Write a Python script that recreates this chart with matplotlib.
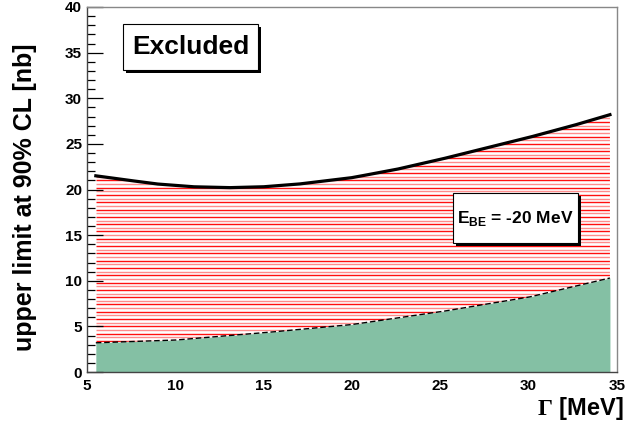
import matplotlib.pyplot as plt
import numpy as np
from matplotlib.patches import Rectangle

plt.rcParams['font.family'] = ['Liberation Sans', 'DejaVu Sans']
plt.rcParams['font.weight'] = 'bold'
plt.rcParams['mathtext.fontset'] = 'custom'
plt.rcParams['mathtext.rm'] = 'Liberation Serif'
plt.rcParams['mathtext.bf'] = 'Liberation Sans:bold'

# upper limit curve (black) and lower bound of the excluded band
gamma_up = [5.5, 7, 9, 11, 13, 15, 17, 20, 22.5, 25, 27.5, 30, 32.5, 34.6]
limit_up = [21.5, 21.1, 20.6, 20.3, 20.2, 20.3, 20.6, 21.3, 22.2, 23.3, 24.5, 25.7, 27.0, 28.2]
gamma_lo = [5.5, 10, 15, 20, 25, 30, 34.6]
limit_lo = [3.2, 3.5, 4.3, 5.2, 6.6, 8.2, 10.3]

x = np.linspace(5.5, 34.6, 200)
up = np.interp(x, gamma_up, limit_up)
lo = np.interp(x, gamma_lo, limit_lo)

fig = plt.figure(figsize=(6.26, 4.34), dpi=100)
ax = fig.add_axes([87/626, 1 - 372/434, 530/626, 365/434])

# green region below the lower curve
ax.fill_between(x, 0, lo, color='#84c0a4', lw=0, zorder=1)

# red horizontal hatching between the curves
band = ax.fill_between(x, lo, up, facecolor='none', lw=0, zorder=1)
ys = np.arange(0.2, 40, 0.4)
cols = ['#ff1010' if i % 2 == 0 else '#ff8c8c' for i in range(len(ys))]
hl = ax.hlines(ys, 5.5, 34.6, colors=cols, lw=1.0, zorder=1.5)
hl.set_clip_path(band.get_paths()[0], ax.transData)

ax.plot(x, up, color='black', lw=2.3, zorder=3)
ax.plot(x, lo, color='black', lw=1.0, ls=(0, (4, 2)), zorder=3)

ax.set_xlim(5, 35)
ax.set_ylim(0, 40)
ax.set_xticks([5, 10, 15, 20, 25, 30, 35])
ax.set_yticks(np.arange(0, 41, 5))
ax.set_yticks(np.arange(0, 41, 1), minor=True)
ax.tick_params(axis='y', which='major', direction='in', length=11.5, width=0.9, pad=3.5, labelsize=11)
ax.tick_params(axis='y', which='minor', direction='in', length=5.8, width=0.9)
ax.tick_params(axis='x', which='major', length=0, pad=5, labelsize=11)
for lab in ax.get_xticklabels() + ax.get_yticklabels():
    lab.set_fontweight('bold')
for s in ['top', 'right']:
    ax.spines[s].set_color('#888888')
for s in ['left', 'bottom']:
    ax.spines[s].set_color('#444444')
for s in ax.spines.values():
    s.set_linewidth(1.0)

fig.text(25/626, 1 - 197/434, 'upper limit at 90% CL [nb]', fontsize=18, fontweight='bold',
         rotation=90, ha='center', va='center')
fig.text(624/626, 1 - 409/434, r'$\Gamma$ [MeV]', fontsize=17, fontweight='bold',
         ha='right', va='center')

def label_box(x0, y0, x1, y1, text, size):
    dx, dy = 3/530, 3/365
    ax.add_patch(Rectangle((x0 + dx, y0 - dy), x1 - x0, y1 - y0, transform=ax.transAxes,
                           facecolor='black', edgecolor='black', lw=0, zorder=5, clip_on=False))
    ax.add_patch(Rectangle((x0, y0), x1 - x0, y1 - y0, transform=ax.transAxes,
                           facecolor='white', edgecolor='black', lw=0.8, zorder=6, clip_on=False))
    ax.text((x0 + x1) / 2, (y0 + y1) / 2, text, transform=ax.transAxes, fontsize=size,
            fontweight='bold', ha='center', va='center', zorder=7)

label_box(0.068, 0.827, 0.323, 0.953, 'Excluded', 19)
label_box(0.690, 0.353, 0.926, 0.490, r'E$_{\mathbf{BE}}$ = -20 MeV', 12.5)

plt.savefig('out.png', dpi=100)
